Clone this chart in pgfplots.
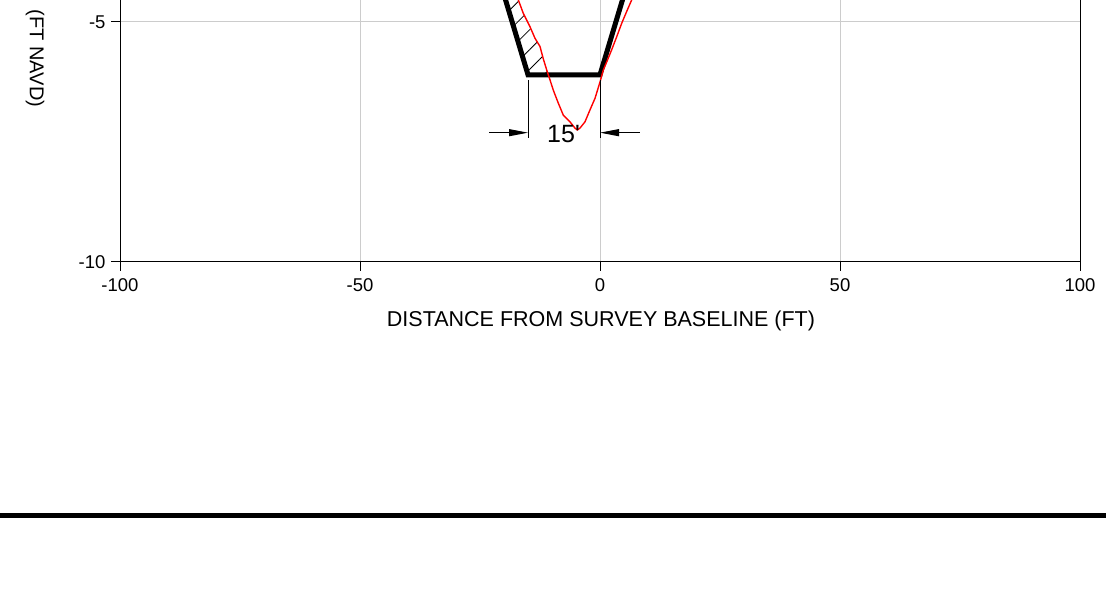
\documentclass[border=0pt]{standalone}
\usepackage{fontspec}
\setmainfont{Liberation Sans}
\usepackage{pgfplots}
\pgfplotsset{compat=1.18}
\usepgfplotslibrary{fillbetween}
\usetikzlibrary{patterns.meta,arrows.meta}

\pgfplotstableread{
x y
-24 -3.1
-15 -6.1
0 -6.1
9 -3.1
}\designdata

\pgfplotstableread{
x y
-18.0 -4.25
-17.02 -4.54
-15.98 -4.82
-14.58 -5.10
-13.54 -5.34
-12.5 -5.51
-11.81 -5.77
-11.10 -6.00
-10.6 -6.15
-9.73 -6.42
-8.69 -6.69
-7.65 -6.94
-6.25 -7.08
-5.21 -7.21
-4.73 -7.25
-4.17 -7.21
-3.13 -7.08
-2.08 -6.83
-1.04 -6.59
0 -6.25
0.69 -6.0
1.45 -5.82
2.43 -5.58
3.47 -5.31
4.51 -5.03
5.56 -4.78
6.6 -4.54
7.6 -4.25
}\surveydata

\begin{document}
\begin{tikzpicture}[x=1pt,y=1pt]
\begin{axis}[
  set layers,
  at={(120pt,337pt)}, anchor=south west,
  scale only axis, width=960pt, height=264pt,
  xmin=-100, xmax=100, ymin=-10, ymax=-4.5,
  xtick={-100,-50,0,50,100}, xticklabels={-100,-50,0,50,100},
  ytick={-10,-5}, yticklabels={-10,-5},
  xtick pos=bottom, ytick pos=left,
  tick align=outside, major tick length=9pt,
  grid=major, grid style={line width=1pt, color=black!20},
  axis line style={line width=1pt},
  every tick/.style={line width=1pt, black},
  tick label style={font=\fontsize{18.5}{18.5}\selectfont},
  xticklabel style={yshift=-4pt},
  yticklabel style={xshift=-2pt},
]
\addplot[name path=design, line width=5pt, black, line join=miter] table[x=x,y=y] {\designdata};
\addplot[name path=survey, line width=1.4pt, red] table[x=x,y=y] {\surveydata};
\addplot[pattern={Lines[angle=45,distance=14pt,line width=0.8pt]}, draw=none]
  fill between[of=survey and design, soft clip={domain=-25:-10.9}];
\draw[line width=1pt] (axis cs:-15,-6.21) -- (axis cs:-15,-7.42);
\draw[line width=1pt] (axis cs:0,-6.21) -- (axis cs:0,-7.42);
\draw[line width=1pt,-{Triangle[length=19pt,width=7pt]}] (axis cs:-23.1,-7.306) -- (axis cs:-15,-7.306);
\draw[line width=1pt,-{Triangle[length=19pt,width=7pt]}] (axis cs:8.33,-7.306) -- (axis cs:0,-7.306);
\node[font=\fontsize{25}{25}\selectfont] at (axis cs:-7.6,-7.33) {15\textquotesingle};
\end{axis}
\node[font=\fontsize{21.5}{21.5}\selectfont, anchor=base] at (601,272.3) {DISTANCE FROM SURVEY BASELINE (FT)};
\node[font=\fontsize{20}{20}\selectfont, rotate=-90] at (35,540.5) {(FT NAVD)};
\fill[black] (0,81.3) rectangle (1106,86.3);
\pgfresetboundingbox
\useasboundingbox (0,0) rectangle (1106,599);
\end{tikzpicture}
\end{document}
